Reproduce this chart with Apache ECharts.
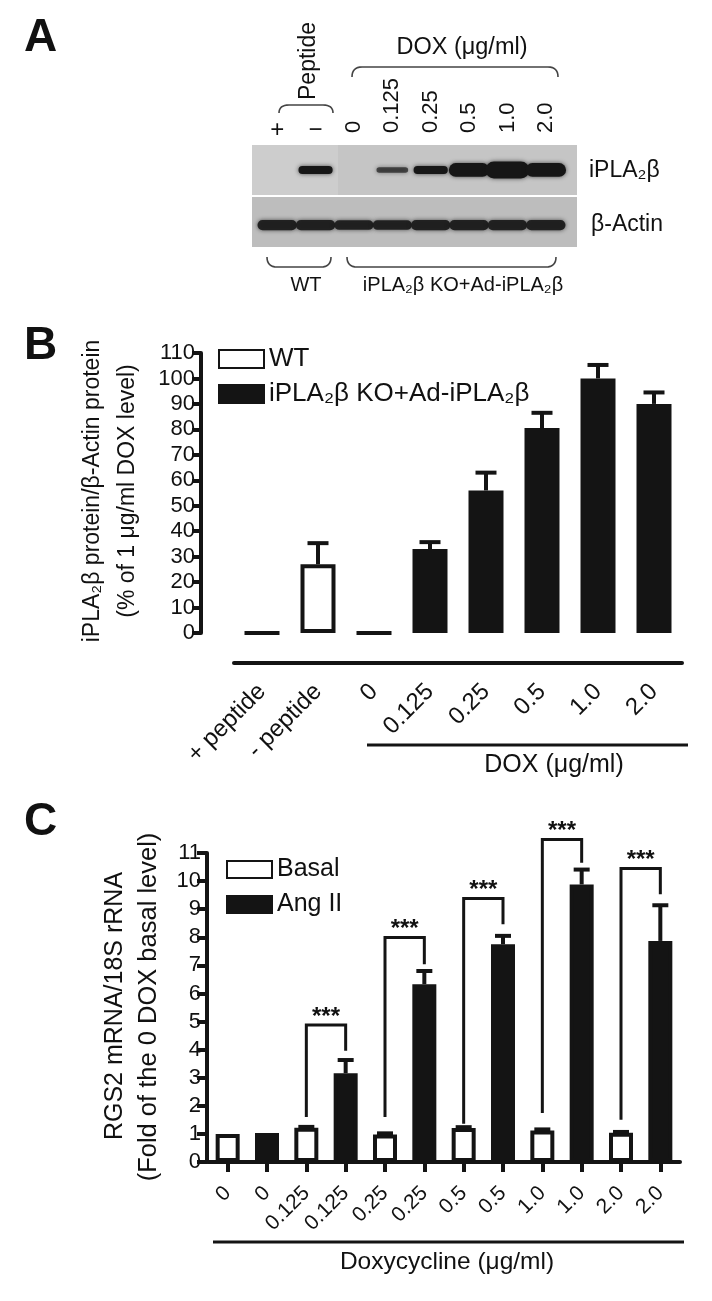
<!DOCTYPE html>
<html>
<head>
<meta charset="utf-8">
<script src="https://cdn.jsdelivr.net/npm/echarts@6/dist/echarts.min.js"></script>
<style>
html,body{margin:0;padding:0;background:#fff;}
#chart{width:712px;height:1301px;}
</style>
</head>
<body>
<div id="chart"></div>
<script>
// ---------- Panel A: western blot lanes ----------
const laneDose = ['', '', '0', '0.125', '0.25', '0.5', '1.0', '2.0'];
const lanePeptide = ['+', '\u2212', '', '', '', '', '', ''];
const iplaBand = [0, 0.3, 0, 0.12, 0.3, 0.75, 1.0, 0.75];   // relative band intensity
const actinBand = [0.85, 0.85, 0.8, 0.8, 0.85, 0.85, 0.85, 0.85];

// ---------- Panel B ----------
const bCategories = ['+ peptide', '- peptide', '0', '0.125', '0.25', '0.5', '1.0', '2.0'];
const bWT = [0, 27, '-', '-', '-', '-', '-', '-'];
const bKO = ['-', '-', 0, 33, 56, 80.5, 100, 90];
const bErr = [0, 8.3, 0, 2.7, 7, 6, 5.3, 4.5];

// ---------- Panel C ----------
const cDoses = ['0', '0.125', '0.25', '0.5', '1.0', '2.0'];
const cBasal = [1.0, 1.22, 0.98, 1.21, 1.12, 1.04];
const cBasalErr = [0, 0.03, 0.04, 0.03, 0.04, 0.03];
const cAng = [1.03, 3.16, 6.33, 7.75, 9.88, 7.87];
const cAngErr = [0, 0.47, 0.47, 0.3, 0.53, 1.27];
const cSigTop = [null, 4.88, 7.99, 9.38, 11.48, 10.45];
const cSigLeftFrom = [null, 1.6, 1.6, 1.36, 1.74, 1.5];
const cSigRightFrom = [null, 3.96, 7.04, 8.46, 10.65, 9.53];

const FONT = '"Liberation Sans", Arial, Helvetica, sans-serif';
const INK = '#141414';

const cCategories = [];
cDoses.forEach(d => { cCategories.push(d); cCategories.push(d); });
const cBasalBars = cCategories.map((c, i) => i % 2 === 0 ? cBasal[i / 2] : '-');
const cAngBars = cCategories.map((c, i) => i % 2 === 1 ? cAng[(i - 1) / 2] : '-');

const bErrData = bCategories.map((c, i) => [i, (bWT[i] !== '-' ? bWT[i] : bKO[i]), bErr[i]]);
const cErrData = [];
cDoses.forEach((d, i) => {
  cErrData.push([2 * i, cBasal[i], cBasalErr[i]]);
  cErrData.push([2 * i + 1, cAng[i], cAngErr[i]]);
});
const cSigData = [];
cDoses.forEach((d, i) => {
  if (cSigTop[i] != null) cSigData.push([2 * i, 2 * i + 1, cSigTop[i], cSigLeftFrom[i], cSigRightFrom[i]]);
});
const laneData = laneDose.map((d, i) => [i, iplaBand[i], actinBand[i]]);

function txt(x, y, text, size, opts) {
  opts = opts || {};
  return {
    type: 'text', x: x, y: y, rotation: opts.rot || 0, z: 10,
    style: {
      text: text, font: (opts.bold ? 'bold ' : '') + size + 'px ' + FONT, fill: '#111',
      textAlign: opts.align || 'center', align: opts.align || 'center',
      textVerticalAlign: 'middle', verticalAlign: 'middle'
    }
  };
}
function quad(p0, c, p1, n, out) {
  for (let k = 0; k <= n; k++) {
    const t = k / n;
    out.push([(1 - t) * (1 - t) * p0[0] + 2 * (1 - t) * t * c[0] + t * t * p1[0],
              (1 - t) * (1 - t) * p0[1] + 2 * (1 - t) * t * c[1] + t * t * p1[1]]);
  }
}
function brace(x1, x2, yEdge, yEnd) {
  const pts = [];
  quad([x1, yEnd], [x1, yEdge], [x1 + 10, yEdge], 8, pts);
  quad([x2 - 10, yEdge], [x2, yEdge], [x2, yEnd], 8, pts);
  return { type: 'polyline', z: 10, shape: { points: pts }, style: { stroke: '#444', lineWidth: 1.6, fill: null } };
}

function errRender(capHalf, lw) {
  return function (params, api) {
    const i = api.value(0), m = api.value(1), e = api.value(2);
    if (!(e > 0)) return null;
    const p0 = api.coord([i, m]);
    const p1 = api.coord([i, m + e]);
    return {
      type: 'group', children: [
        { type: 'line', shape: { x1: p0[0], y1: p0[1], x2: p1[0], y2: p1[1] }, style: { stroke: INK, lineWidth: lw } },
        { type: 'line', shape: { x1: p1[0] - capHalf, y1: p1[1], x2: p1[0] + capHalf, y2: p1[1] }, style: { stroke: INK, lineWidth: lw } }
      ]
    };
  };
}

const chart = echarts.init(document.getElementById('chart'), null, { renderer: 'canvas' });
const option = {
  animation: false,
  backgroundColor: '#ffffff',
  textStyle: { fontFamily: FONT },
  grid: [
    { left: 258, top: 145, width: 307, height: 102 },
    { left: 234, top: 353, width: 448, height: 280 },
    { left: 208, top: 853, width: 472, height: 309 }
  ],
  xAxis: [
    { gridIndex: 0, type: 'category', data: laneDose, show: false },
    {
      gridIndex: 1, type: 'category', data: bCategories, offset: 30,
      axisLine: { show: true, onZero: false, lineStyle: { color: INK, width: 4 } },
      axisTick: { show: false },
      axisLabel: { rotate: 45, margin: 25, fontSize: 24, interval: 0, color: '#111', fontFamily: FONT }
    },
    {
      gridIndex: 2, type: 'category', data: cCategories,
      axisLine: { show: true, onZero: false, lineStyle: { color: INK, width: 4 } },
      axisTick: { show: true, alignWithLabel: true, length: 10, lineStyle: { color: INK, width: 4 } },
      axisLabel: { rotate: 45, margin: 28, fontSize: 21, interval: 0, color: '#111', fontFamily: FONT }
    }
  ],
  yAxis: [
    { gridIndex: 0, type: 'value', min: 0, max: 2, show: false },
    {
      gridIndex: 1, type: 'value', min: 0, max: 110, interval: 10, offset: 33,
      axisLine: { show: true, lineStyle: { color: INK, width: 4 } },
      axisTick: { show: true, length: 9, lineStyle: { color: INK, width: 4 } },
      axisLabel: { fontSize: 22, margin: 6, color: '#111', fontFamily: FONT },
      splitLine: { show: false }
    },
    {
      gridIndex: 2, type: 'value', min: 0, max: 11, interval: 1, offset: 1,
      axisLine: { show: true, lineStyle: { color: INK, width: 4 } },
      axisTick: { show: true, length: 10, lineStyle: { color: INK, width: 4 } },
      axisLabel: { fontSize: 22, margin: 6, color: '#111', fontFamily: FONT },
      splitLine: { show: false }
    }
  ],
  legend: [
    {
      data: ['WT', 'iPLA\u2082\u03B2 KO+Ad-iPLA\u2082\u03B2'], orient: 'vertical', left: 213, top: 341,
      itemWidth: 45, itemHeight: 18, itemGap: 9, icon: 'rect', selectedMode: false,
      textStyle: { fontSize: 26, color: '#111', fontFamily: FONT }
    },
    {
      data: ['Basal', 'Ang II'], orient: 'vertical', left: 221, top: 852,
      itemWidth: 45, itemHeight: 17, itemGap: 10, icon: 'rect', selectedMode: false,
      textStyle: { fontSize: 25, color: '#111', fontFamily: FONT }
    }
  ],
  graphic: [
    // panel letters
    txt(24, 38, 'A', 46, { bold: true, align: 'left' }),
    txt(24, 346, 'B', 46, { bold: true, align: 'left' }),
    txt(24, 822, 'C', 46, { bold: true, align: 'left' }),
    // blot background
    { type: 'rect', z: 0, shape: { x: 252, y: 145, width: 325, height: 50 }, style: { fill: '#c5c5c5' } },
    { type: 'rect', z: 0, shape: { x: 252, y: 145, width: 86, height: 50 }, style: { fill: '#cdcdcd' } },
    { type: 'rect', z: 0, shape: { x: 252, y: 197, width: 325, height: 50 }, style: { fill: '#bdbdbd' } },
    // blot annotations
    txt(309, 61, 'Peptide', 23, { rot: Math.PI / 2 }),
    brace(279, 333, 105, 113),
    txt(462, 48, 'DOX (\u03BCg/ml)', 23.5),
    brace(352, 558, 67, 77),
    txt(589, 171, 'iPLA\u2082\u03B2', 23, { align: 'left' }),
    txt(591, 225, '\u03B2-Actin', 23, { align: 'left' }),
    brace(267, 331, 267, 257),
    brace(347, 556, 267, 257),
    txt(306, 285, 'WT', 20),
    txt(463, 285, 'iPLA\u2082\u03B2 KO+Ad-iPLA\u2082\u03B2', 20),
    // panel B titles
    txt(93, 491, 'iPLA\u2082\u03B2 protein/\u03B2-Actin protein', 23, { rot: Math.PI / 2 }),
    txt(128, 491, '(% of 1 \u03BCg/ml DOX level)', 23, { rot: Math.PI / 2 }),
    { type: 'line', z: 10, shape: { x1: 367, y1: 745, x2: 688, y2: 745 }, style: { stroke: INK, lineWidth: 3 } },
    txt(554, 765, 'DOX (\u03BCg/ml)', 25),
    // panel C titles
    txt(115, 1006, 'RGS2 mRNA/18S rRNA', 25, { rot: Math.PI / 2 }),
    txt(149, 1007, '(Fold of the 0 DOX basal level)', 25.5, { rot: Math.PI / 2 }),
    { type: 'line', z: 10, shape: { x1: 213, y1: 1242, x2: 684, y2: 1242 }, style: { stroke: INK, lineWidth: 3 } },
    txt(447, 1262, 'Doxycycline (\u03BCg/ml)', 24.5)
  ],
  series: [
    // blot bands
    {
      type: 'custom', name: 'blot', xAxisIndex: 0, yAxisIndex: 0, data: laneData, clip: false,
      renderItem: function (params, api) {
        const lane = api.value(0), ip = api.value(1), ac = api.value(2);
        const cx = api.coord([lane, 0])[0];
        const yIp = api.coord([lane, 1.51])[1];
        const yAc = api.coord([lane, 0.43])[1];
        const ch = [];
        if (ip > 0) {
          const th = 4 + 13 * ip, w = 30 + 14 * ip;
          ch.push({ type: 'rect', shape: { x: cx - w / 2, y: yIp - th / 2, width: w, height: th, r: th / 2 },
            style: { fill: '#161616', opacity: Math.min(1, 0.45 + ip * 1.8), shadowBlur: 4, shadowColor: 'rgba(20,20,20,0.7)' } });
        }
        if (ac > 0) {
          const th = 12 * ac, w = 36 + 4 * ac;
          ch.push({ type: 'rect', shape: { x: cx - w / 2, y: yAc - th / 2, width: w, height: th, r: th / 2 },
            style: { fill: '#1c1c1c', opacity: 0.95, shadowBlur: 4, shadowColor: 'rgba(20,20,20,0.7)' } });
        }
        return { type: 'group', children: ch };
      }
    },
    // lane labels
    {
      type: 'custom', name: 'laneLabels', xAxisIndex: 0, yAxisIndex: 0, data: laneData, clip: false,
      renderItem: function (params, api) {
        const i = api.value(0);
        const p = api.coord([i, 2]);
        if (lanePeptide[i]) {
          return { type: 'text', x: p[0], y: p[1] - 15,
            style: { text: lanePeptide[i], font: '24px ' + FONT, fill: '#111', textAlign: 'center', align: 'center', textVerticalAlign: 'middle', verticalAlign: 'middle' } };
        }
        return { type: 'text', x: p[0], y: p[1] - 12, rotation: Math.PI / 2,
          style: { text: laneDose[i], font: '22px ' + FONT, fill: '#111', textAlign: 'left', align: 'left', textVerticalAlign: 'middle', verticalAlign: 'middle' } };
      }
    },
    // panel B bars
    {
      type: 'bar', name: 'WT', xAxisIndex: 1, yAxisIndex: 1, data: bWT, barWidth: 35, barGap: '-100%',
      itemStyle: { color: '#ffffff', borderColor: INK, borderWidth: 4 }
    },
    {
      type: 'bar', name: 'iPLA\u2082\u03B2 KO+Ad-iPLA\u2082\u03B2', xAxisIndex: 1, yAxisIndex: 1, data: bKO, barWidth: 35, barGap: '-100%',
      itemStyle: { color: INK, borderColor: INK, borderWidth: 4 }
    },
    {
      type: 'custom', name: 'bErr', xAxisIndex: 1, yAxisIndex: 1, data: bErrData, clip: false, z: 5,
      renderItem: errRender(10.5, 4)
    },
    // panel C bars
    {
      type: 'bar', name: 'Basal', xAxisIndex: 2, yAxisIndex: 2, data: cBasalBars, barWidth: 24, barGap: '-100%',
      itemStyle: { color: '#ffffff', borderColor: INK, borderWidth: 4 }
    },
    {
      type: 'bar', name: 'Ang II', xAxisIndex: 2, yAxisIndex: 2, data: cAngBars, barWidth: 24, barGap: '-100%',
      itemStyle: { color: INK, borderColor: INK, borderWidth: 4 }
    },
    {
      type: 'custom', name: 'cErr', xAxisIndex: 2, yAxisIndex: 2, data: cErrData, clip: false, z: 5,
      renderItem: errRender(8, 4)
    },
    {
      type: 'custom', name: 'cSig', xAxisIndex: 2, yAxisIndex: 2, data: cSigData, clip: false, z: 5,
      renderItem: function (params, api) {
        const xl = api.coord([api.value(0), 0])[0];
        const xr = api.coord([api.value(1), 0])[0];
        const yt = api.coord([api.value(0), api.value(2)])[1];
        const yl = api.coord([api.value(0), api.value(3)])[1];
        const yr = api.coord([api.value(0), api.value(4)])[1];
        return {
          type: 'group', children: [
            { type: 'polyline', shape: { points: [[xl, yl], [xl, yt], [xr, yt], [xr, yr]] }, style: { stroke: INK, lineWidth: 3, fill: null } },
            { type: 'text', x: (xl + xr) / 2, y: yt + 4,
              style: { text: '***', font: 'bold 24px ' + FONT, fill: '#111', textAlign: 'center', align: 'center', textVerticalAlign: 'bottom', verticalAlign: 'bottom' } }
          ]
        };
      }
    }
  ]
};
chart.setOption(option);
</script>
</body>
</html>
